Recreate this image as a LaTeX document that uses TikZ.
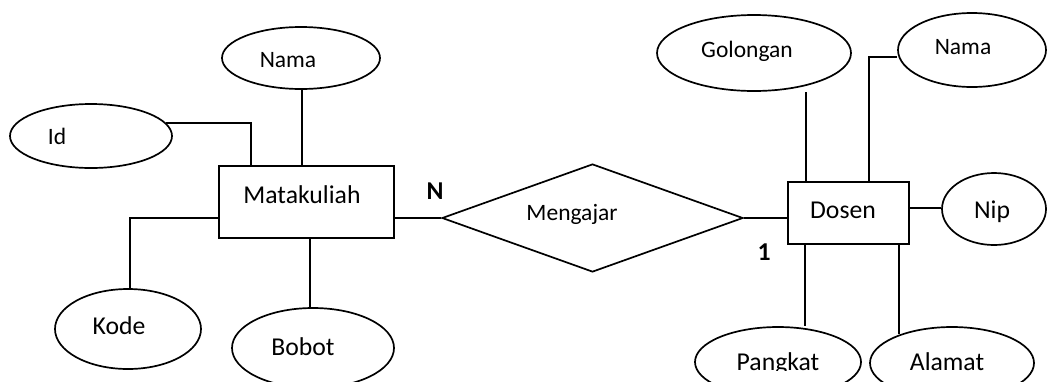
\documentclass[tikz,border=0pt]{standalone}
\usepackage{fontspec}
\setmainfont{Carlito}
\usetikzlibrary{shapes.geometric}
\begin{document}
\begin{tikzpicture}[x=1pt,y=-1pt,
  line width=1.7pt,
  ent/.style={draw, rectangle, inner sep=0pt},
  attr/.style={draw, ellipse, inner sep=0pt},
  relship/.style={draw, diamond, inner sep=0pt},
  big/.style={anchor=base, inner sep=0pt, font=\fontsize{25.7}{30}\selectfont},
  small/.style={anchor=base, inner sep=0pt, font=\fontsize{23.5}{28}\selectfont},
  card/.style={anchor=base, inner sep=0pt, font=\fontsize{25.7}{30}\selectfont\bfseries},
]
\useasboundingbox (0,0) rectangle (1048,381);
\clip (0,0) rectangle (1048,381);

% entities
\node[ent, minimum width=175pt, minimum height=72pt] (mk) at (306.5,202) {};
\node[ent, minimum width=121pt, minimum height=62pt] (dos) at (848.5,213) {};

% relationship
\node[relship, minimum width=301pt, minimum height=108pt] (rel) at (592.5,218) {};

% attributes of Matakuliah
\node[attr, minimum width=158pt, minimum height=62pt] (namaL) at (301,58) {};
\node[attr, minimum width=162pt, minimum height=64pt] (idE) at (91,136) {};
\node[attr, minimum width=146pt, minimum height=80pt] (kode) at (128,329) {};
\node[attr, minimum width=162pt, minimum height=80pt] (bobot) at (313,348) {};

% attributes of Dosen
\node[attr, minimum width=194pt, minimum height=76pt] (gol) at (754,53) {};
\node[attr, minimum width=148pt, minimum height=74pt] (namaR) at (972,50) {};
\node[attr, minimum width=104pt, minimum height=72pt] (nip) at (994,209) {};
\node[attr, minimum width=166pt, minimum height=70pt] (pk) at (778,362) {};
\node[attr, minimum width=164pt, minimum height=72pt] (al) at (952,363) {};

% labels
\node[big] (tmk) at (302,203) {Matakuliah};
\node[big] (tdos) at (843,218) {Dosen};
\node[small] (trel) at (572,220) {Mengajar};
\node[small] (tnamaL) at (288,67) {Nama};
\node[small] (tid) at (57,144) {Id};
\node[big] (tkode) at (119,334) {Kode};
\node[big] (tbobot) at (303,355) {Bobot};
\node[small] (tgol) at (747,57) {Golongan};
\node[small] (tnamaR) at (963,54) {Nama};
\node[big] (tnip) at (992,218) {Nip};
\begin{scope}
  \clip (0,0) rectangle (1048,370);
  \node[big] (tpk) at (778,370) {Pangkat};
  \node[big] (tal) at (947,370) {Alamat};
\end{scope}
\node[card] (cn) at (435,199) {N};
\node[card] (c1) at (764,260) {1};

% connectors: Matakuliah
\draw (idE.10) -| ([xshift=33pt]mk.north west);
\draw ([xshift=1pt]namaL.south) -- ([xshift=1pt]namaL.south |- mk.north);
\draw ([yshift=-16pt]mk.west) -| ([xshift=2pt]kode.north);
\draw ([xshift=-3pt]bobot.north) -- ([xshift=-3pt]bobot.north |- mk.south);
\draw ([yshift=-16pt]mk.east) -- (rel.west);

% connectors: Dosen
\draw (rel.east) -- (rel.east -| dos.west);
\draw ([xshift=19pt]dos.north west) -- ([xshift=19pt]dos.north west |- gol.south);
\draw ([xshift=82pt]dos.north west) |- ([yshift=-7pt]namaR.west);
\draw ([yshift=5pt]dos.east) -- ([yshift=5pt]dos.east -| nip.west);
\draw ([xshift=18pt]dos.south west) -- ([xshift=18pt]dos.south west |- pk.north);
\draw ([xshift=-11pt]dos.south east) -- ([xshift=-11pt,yshift=-8pt]dos.south east |- al.north);
\end{tikzpicture}
\end{document}
